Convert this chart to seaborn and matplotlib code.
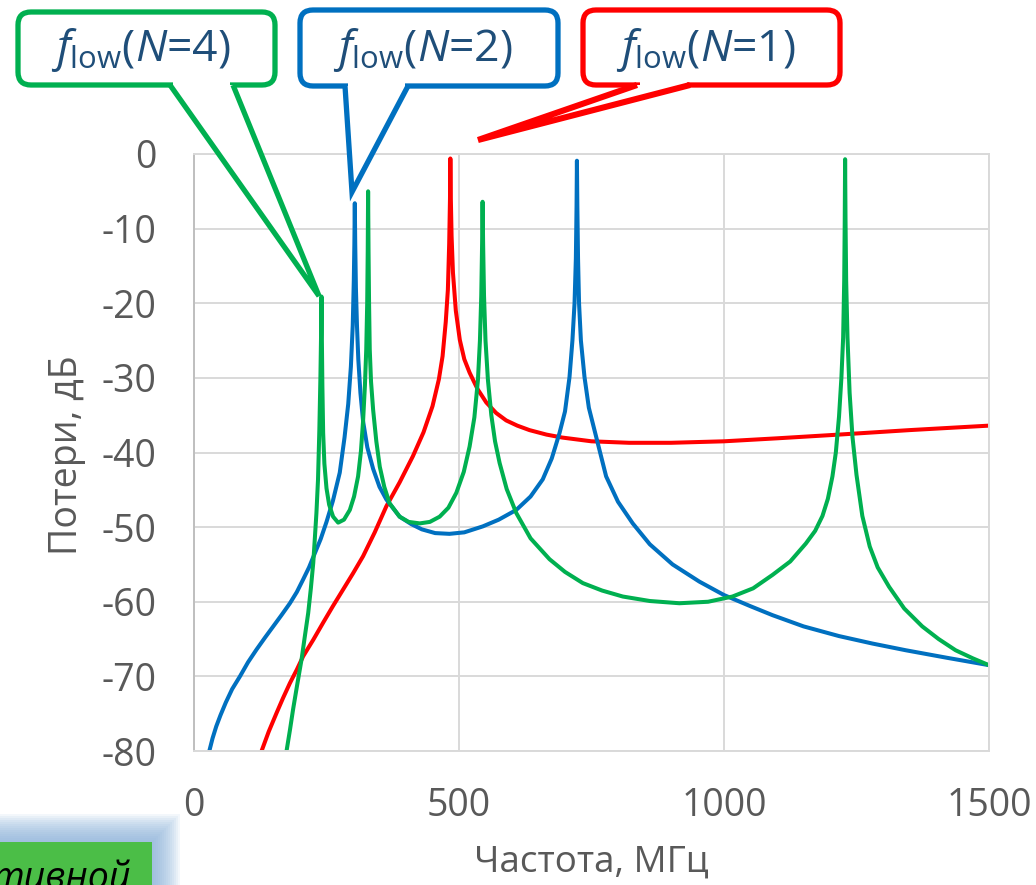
import numpy as np
import pandas as pd
import matplotlib
matplotlib.use("Agg")
import matplotlib.pyplot as plt
import seaborn as sns
from matplotlib.patches import FancyBboxPatch, Polygon, Rectangle
from matplotlib.transforms import Affine2D

# ---------------- data ----------------
freq_n1 = [127.5, 141, 155.8, 168, 181, 194, 206, 225, 243.7, 262, 281, 300, 319, 341, 363,
           388, 413, 433, 450, 462, 469, 475, 479, 481.5, 483, 483.7, 484.6, 486, 488.6,
           494, 501.5, 510, 520, 535, 551.5, 570, 589, 610, 633, 665, 695, 750, 821, 900,
           1000, 1100, 1217, 1350, 1500]
loss_n1 = [-80, -77.4, -74.9, -72.9, -70.9, -69.1, -67.3, -65.1, -62.8, -60.6, -58.4, -56.2, -53.9, -50.7, -47.2,
           -44.0, -40.5, -37.3, -33.8, -30.2, -27.1, -22.5, -18.2, -12, -6, -0.6, -6, -11, -15.9,
           -21.0, -24.9, -27.5, -29.3, -31.5, -33.3, -34.7, -35.7, -36.4, -37.0, -37.6, -38.0, -38.5, -38.7, -38.7,
           -38.5, -38.1, -37.6, -37.0, -36.4]

freq_n2 = [28.9, 35, 42, 50, 60, 72, 86.7, 102, 118, 134, 149.5, 165, 181, 194, 206, 217, 228,
           239, 250, 262, 275, 284, 291, 296, 299.5, 301.5, 302.6, 303.4, 304.2, 305.5,
           307.5, 310, 314, 319, 327, 338, 350, 363, 388, 410, 430, 455, 482, 510, 545,
           575, 608, 635, 658, 675, 689.6, 700, 708.5, 714, 718, 720.5, 721.8, 722.5,
           723.3, 724.6, 726.5, 730, 736.8, 745, 758.8, 777.6, 800, 827.8, 860, 903,
           953.5, 1000, 1050, 1091.6, 1150, 1217, 1280, 1343, 1420, 1500]
loss_n2 = [-80, -78.3, -76.7, -75.2, -73.5, -71.7, -70.0, -68.1, -66.4, -64.8, -63.3, -61.8, -60.2, -58.7, -57.0, -55.4, -53.5,
           -51.6, -49.3, -46.5, -42.7, -38.0, -33.5, -28.5, -23, -17, -12, -6.6, -12, -18,
           -23, -27.5, -32, -35.8, -39.3, -42.2, -44.6, -46.3, -48.6, -49.6, -50.3, -50.8, -50.9, -50.7, -49.9,
           -49.0, -47.7, -45.9, -43.6, -40.8, -37.4, -34.5, -29.9, -25, -20, -14, -7, -0.9,
           -7, -14, -20, -25, -29.9, -34, -37.9, -43.2, -46.6, -49.5, -52.3, -55.0,
           -57.3, -59.1, -60.6, -61.8, -63.3, -64.6, -65.6, -66.5, -67.5, -68.5]

freq_n4 = [174.6, 181, 187, 195, 203, 209, 215.5, 220.5, 225, 228, 231, 234, 236.5, 238.5,
           239.8, 240.6, 241.3, 242.2, 243.7, 246, 250, 255, 262.5, 272, 283, 294, 302,
           309.6, 315, 319, 322.5, 325, 326.8, 327.8, 328.5, 329.3, 330.3, 331.6, 334, 338,
           344, 350.5, 359, 369, 388, 405, 426, 445, 463.5, 480, 495, 509, 520, 529, 535.7,
           539.5, 542, 543.6, 544.5, 545.5, 547.2, 550, 554.6, 561, 568, 576.6, 590, 608,
           635, 670.8, 700, 733.6, 770, 809, 860, 915.8, 970, 1016, 1055, 1091.6, 1125,
           1154.4, 1172, 1185.8, 1196, 1204.6, 1211, 1217, 1221.5, 1224.8, 1226.8, 1227.8,
           1228.5, 1229.3, 1230.5, 1233, 1237, 1242.4, 1250, 1261, 1275, 1290, 1311.5, 1340,
           1374, 1405, 1437, 1470, 1500]
loss_n4 = [-80, -77.2, -74.4, -71.0, -67.7, -64.7, -61.5, -58.2, -54.8, -51.5, -48.1, -43.6, -37, -30,
           -24, -19.1, -25, -31, -37.4, -41.5, -44.8, -47, -48.6, -49.4, -49.0, -47.7, -45.9,
           -43.2, -39.8, -35.8, -31, -26.2, -20, -13, -5.0, -13, -20, -26.2, -30.5, -34.3,
           -38.5, -41.9, -44.6, -46.8, -48.6, -49.3, -49.5, -49.3, -48.6, -47.4, -45.4, -42.6, -39.2, -35.3, -30.3,
           -25, -19, -12, -6.4, -12, -19, -25, -30.3, -35, -38.5, -41.4, -44.9, -48.1,
           -51.5, -54.3, -56.0, -57.5, -58.5, -59.3, -59.9, -60.2, -60.0, -59.3, -58.2, -56.4, -54.6,
           -52.2, -50.5, -48.5, -46.2, -43.2, -40, -35.2, -30, -24.6, -17, -9,
           -0.7, -9, -17, -24.6, -32, -37.9, -43, -48.5, -52.6, -55.4, -58.0, -60.9,
           -63.3, -65.0, -66.5, -67.6, -68.5]

series_names = ["N=1", "N=2", "N=4"]
series_colors = ["#FF0000", "#0070C0", "#00B050"]
x_ticks = [0, 500, 1000, 1500]
y_ticks = [0, -10, -20, -30, -40, -50, -60, -70, -80]
x_label = "Частота, МГц"
y_label = "Потери, дБ"
callout_labels = [r"$f_{\mathrm{low}}(N$=4)", r"$f_{\mathrm{low}}(N$=2)", r"$f_{\mathrm{low}}(N$=1)"]
callout_colors = ["#00B050", "#0070C0", "#FF0000"]
corner_text = "тивной"

# ---------------- style ----------------
sns.set_theme(style="white")
plt.rcParams['font.family'] = ['Open Sans', 'DejaVu Sans']
plt.rcParams['axes.unicode_minus'] = False
plt.rcParams['mathtext.fontset'] = 'custom'
plt.rcParams['mathtext.rm'] = 'Open Sans'
plt.rcParams['mathtext.it'] = 'Open Sans:italic'
plt.rcParams['mathtext.bf'] = 'Open Sans:bold'

W, H = 1036, 885
fig = plt.figure(figsize=(W / 100, H / 100), dpi=100)
ax = fig.add_axes([194 / W, 1 - 751 / H, (989 - 194) / W, (751 - 154) / H])

df = pd.concat([
    pd.DataFrame({"f": freq_n1, "loss": loss_n1, "series": series_names[0]}),
    pd.DataFrame({"f": freq_n2, "loss": loss_n2, "series": series_names[1]}),
    pd.DataFrame({"f": freq_n4, "loss": loss_n4, "series": series_names[2]}),
], ignore_index=True)

sns.lineplot(data=df, x="f", y="loss", hue="series", hue_order=series_names,
             palette=dict(zip(series_names, series_colors)), estimator=None,
             sort=False, lw=2.9, legend=False, ax=ax)
for ln in ax.lines:
    ln.set_solid_capstyle('round')
    ln.set_solid_joinstyle('round')

ax.set_xlim(0, 1500)
ax.set_ylim(-80, 0)
ax.set_xticks(x_ticks)
ax.set_yticks(y_ticks)
ax.set_xticklabels([str(v) for v in x_ticks])
ax.set_yticklabels([str(v) for v in y_ticks])
ax.tick_params(axis='both', length=0, labelsize=27, labelcolor='#595959')
ax.tick_params(axis='y', pad=27)
ax.tick_params(axis='x', pad=26)
ax.grid(True, color='#d9d9d9', lw=1.4)
ax.set_axisbelow(True)
for name, sp in ax.spines.items():
    sp.set_color('#d9d9d9')
    sp.set_linewidth(1.4)
ax.spines['left'].set_color('#bfbfbf')
ax.set_xlabel("")
ax.set_ylabel("")

fig.text(591 / W, 1 - 863 / H, x_label, ha='center', va='center', fontsize=26.5, color='#595959')
fig.text(67 / W, 1 - 455 / H, y_label, ha='center', va='center', rotation=90, fontsize=27, color='#595959')

# pixel transform (origin top-left)
T = Affine2D().scale(1 / W, -1 / H).translate(0, 1) + fig.transFigure

callouts = [
    # x0, y0, x1, y1, wedge left, wedge right, tip, wedge line width
    (18, 12, 275, 85, 170, 233, (319, 296), 3.8),
    (300, 10, 558, 86, 345, 408, (352, 192), 3.8),
    (583, 10, 840, 85, 637, 690, (478, 140), 4.4),
]
for (x0, y0, x1, y1, wl, wr, tip, wlw), col, lab in zip(callouts, callout_colors, callout_labels):
    box = FancyBboxPatch((x0, y0), x1 - x0, y1 - y0,
                         boxstyle="round,pad=0,rounding_size=13",
                         transform=T, fc='white', ec=col, lw=3.8, zorder=10, clip_on=False)
    fig.add_artist(box)
    cover = Rectangle((wl + 3, y1 - 5), wr - wl - 6, 9, transform=T, fc='white', ec='none',
                      zorder=11, clip_on=False)
    fig.add_artist(cover)
    wedge = Polygon([(wl, y1), tip, (wr, y1)], closed=False, transform=T, fc='white', ec=col,
                    lw=wlw, joinstyle='miter', zorder=12, clip_on=False)
    fig.add_artist(wedge)
    fig.text(((x0 + x1) / 2 - 6) / W, 1 - ((y0 + y1) / 2 + 2) / H, lab, ha='center', va='center',
             fontsize=32, color='#1F4E79', zorder=13)

# partially visible box at lower left (glow + green fill)
for d in range(28, 0, -2):
    fig.add_artist(Rectangle((-40 - d, 842 - d), 192 + 2 * d, 100 + d, transform=T,
                             fc='#8DB3DB', ec='none', alpha=0.10, zorder=5, clip_on=False))
fig.add_artist(Rectangle((-40, 842), 192, 100, transform=T, fc='#4BBE47', ec='none',
                         zorder=6, clip_on=False))
fig.text(131 / W, 1 - 889 / H, corner_text, ha='right', va='baseline', style='italic',
         fontsize=27, color='black', zorder=7)

fig.savefig("out.png", dpi=100)
